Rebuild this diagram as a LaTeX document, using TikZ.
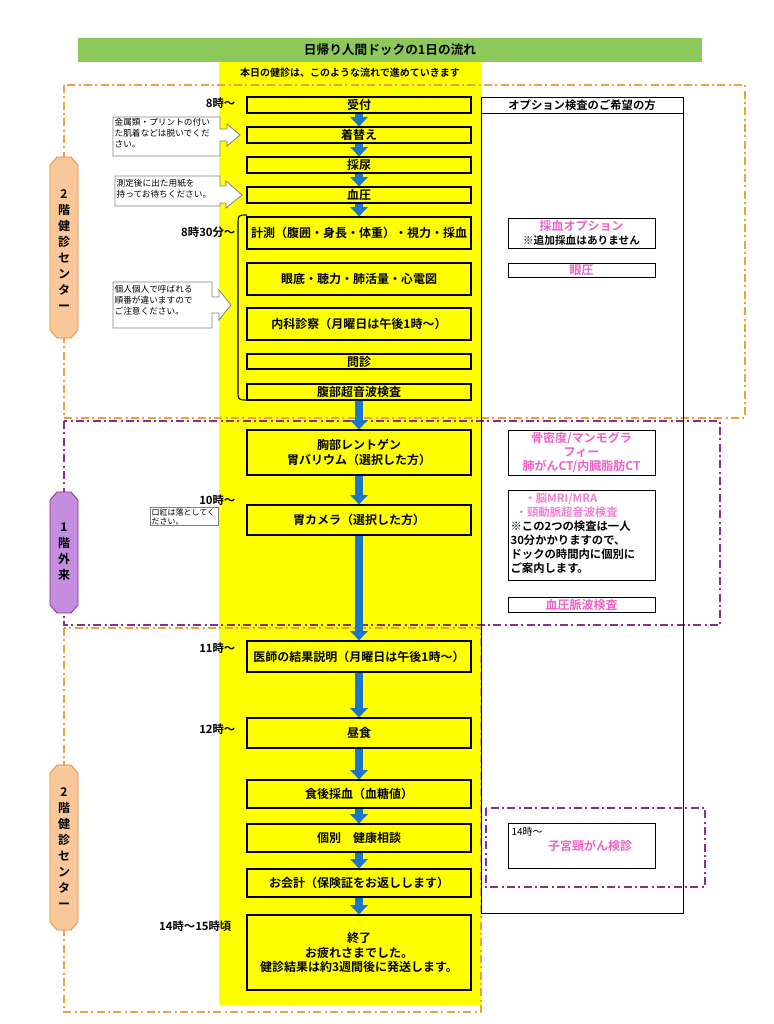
\documentclass[tikz,border=0pt]{standalone}
\usepackage{fontspec}
\setmainfont{Noto Sans CJK JP}[BoldFont={* Bold}]
\usetikzlibrary{arrows.meta}
\definecolor{ygreen}{HTML}{8DC85A}
\definecolor{yel}{HTML}{FFFF00}
\definecolor{oline}{HTML}{F0A040}
\definecolor{pline}{HTML}{8A2F8A}
\definecolor{pinkt}{HTML}{F060C8}
\definecolor{flowblue}{HTML}{1C75C8}
\definecolor{ofill}{HTML}{F9C79A}
\definecolor{pfill}{HTML}{C48DE0}
\begin{document}
\begin{tikzpicture}[x=0.75pt,y=-0.75pt,
 flow/.style={draw=black,line width=0.9pt,fill=yel,font=\bfseries\fontsize{9}{11}\selectfont,align=center,inner sep=0pt},
 opt/.style={draw=black,line width=0.7pt,fill=white,font=\bfseries\fontsize{9}{10.5}\selectfont,align=center,inner sep=0pt},
 tlab/.style={font=\bfseries\fontsize{8.5}{10}\selectfont,anchor=east},
 call/.style={draw=gray,fill=white,line width=0.6pt},
 ctext/.style={font=\fontsize{6.5}{8}\selectfont,align=left,anchor=north west,inner sep=1pt},
 fa/.style={draw=flowblue,line width=6pt,-{Triangle[length=7pt,width=13pt]}},
 odash/.style={draw=oline,line width=1pt,dash pattern=on 6pt off 2.5pt on 1.5pt off 2.5pt},
 pdash/.style={draw=pline,line width=1pt,dash pattern=on 6pt off 2.5pt on 1.5pt off 2.5pt},
 side/.style={font=\bfseries\fontsize{9}{12}\selectfont,align=center}]
\useasboundingbox (0,0) rectangle (774,1024);
\fill[white] (0,0) rectangle (774,1024);
% title
\node[fill=ygreen,minimum width=624*0.75pt,minimum height=24*0.75pt,inner sep=0pt,font=\bfseries\fontsize{9.5}{11}\selectfont] (title) at (390,50) {日帰り人間ドックの1日の流れ};
\fill[yel] (219,62) rectangle (481,1005);
\node[font=\bfseries\fontsize{7.5}{9}\selectfont] (sub) at (350,73) {本日の健診は、このような流れで進めていきます};
% region boxes
\draw[odash] (64,85) rectangle (745,418);
\draw[pdash] (64,421) rectangle (720,625);
\draw[odash] (64,628) rectangle (481,1012);
% option column
\draw[black,line width=0.7pt] (481,97) rectangle (683,913);
\node[draw=black,line width=0.7pt,fill=white,minimum width=202*0.75pt,minimum height=16*0.75pt,inner sep=0pt,font=\bfseries\fontsize{8.5}{10}\selectfont] (opthead) at (582,105) {オプション検査のご希望の方};
% flow boxes
\def\fb#1#2#3#4{\node[flow,minimum width=224*0.75pt,minimum height={(#3-#2)*0.75pt}] (#1) at (359,{(#2+#3)/2}) {#4};}
\fb{a}{97}{113}{受付}
\fb{b}{127}{143}{着替え}
\fb{c}{157}{173}{採尿}
\fb{d}{187}{203}{血圧}
\fb{e}{217}{249}{計測（腹囲・身長・体重）・視力・採血}
\fb{f}{263}{295}{眼底・聴力・肺活量・心電図}
\fb{g}{308}{340}{内科診察（月曜日は午後1時～）}
\fb{h}{354}{369}{問診}
\fb{i}{384}{400}{腹部超音波検査}
\fb{j}{430}{475}{胸部レントゲン\\胃バリウム（選択した方）}
\fb{k}{505}{535}{胃カメラ（選択した方）}
\fb{l}{641}{672}{医師の結果説明（月曜日は午後1時～）}
\fb{m}{718}{748}{昼食}
\fb{n}{780}{808}{食後採血（血糖値）}
\fb{o}{824}{852}{個別　健康相談}
\fb{p}{869}{897}{お会計（保険証をお返しします）}
\fb{q}{915}{990}{終了\\お疲れさまでした。\\健診結果は約3週間後に発送します。}
\foreach \u/\v in {a/b,b/c,c/d,d/e,i/j,j/k,k/l,l/m,m/n,n/o,o/p,p/q}
  \draw[fa] (\u.south) -- (\v.north);
% brace
\draw[black,line width=0.8pt] (247,215) .. controls (238,215) .. (238,225) -- (238,390) .. controls (238,400) .. (247,400);
% times
\node[tlab] (t1) at (240,103) {8時～};
\node[tlab] (t2) at (240,232) {8時30分～};
\node[tlab] (t3) at (240,500) {10時～};
\node[tlab] (t4) at (240,648) {11時～};
\node[tlab] (t5) at (240,729) {12時～};
\node[tlab] (t6) at (236,926) {14時～15時頃};
% callouts
\draw[call] (113,117) -- (220,117) -- (220,129) -- (227,129) -- (227,124) -- (240,135) -- (227,146) -- (227,141) -- (220,141) -- (220,156) -- (113,156) -- cycle;
\node[ctext] (c1) at (113,117) {金属類・プリントの付い\\た肌着などは脱いでくだ\\さい。};
\draw[call] (115,176) -- (220,176) -- (220,186) -- (226,186) -- (226,181) -- (242,195) -- (226,208) -- (226,203) -- (220,203) -- (220,206) -- (115,206) -- cycle;
\node[ctext] (c2) at (115,178) {測定後に出た用紙を\\持ってお待ちください。};
\draw[call] (113,282) -- (212,282) -- (212,297) -- (219,297) -- (219,290) -- (231,305) -- (219,320) -- (219,313) -- (212,313) -- (212,328) -- (113,328) -- cycle;
\node[ctext] (c3) at (113,284) {個人個人で呼ばれる\\順番が違いますので\\ご注意ください。};
\draw[call] (150,507) -- (218,507) -- (218,525) -- (150,525) -- cycle;
\node[ctext,font=\fontsize{6}{7}\selectfont] (c4) at (150,507) {口紅は落としてく\\ださい。};
% side labels
\draw[oline!90!black,fill=ofill,line width=0.6pt] (50,165) -- (57,157) -- (71,157) -- (78,165) -- (78,330) -- (71,338) -- (57,338) -- (50,330) -- cycle;
\node[side] (s1) at (64,250) {2\\階\\健\\診\\セ\\ン\\タ\\ー};
\draw[pline,fill=pfill,line width=0.6pt] (50,500) -- (57,492) -- (71,492) -- (78,500) -- (78,605) -- (71,613) -- (57,613) -- (50,605) -- cycle;
\node[side] (s2) at (64,552) {1\\階\\外\\来};
\draw[oline!90!black,fill=ofill,line width=0.6pt] (50,773) -- (57,765) -- (71,765) -- (78,773) -- (78,922) -- (71,930) -- (57,930) -- (50,922) -- cycle;
\node[side] (s3) at (64,848) {2\\階\\健\\診\\セ\\ン\\タ\\ー};
% option boxes
\def\ob#1#2#3#4{\node[opt,minimum width=147*0.75pt,minimum height={(#3-#2)*0.75pt}] (#1) at (581.5,{(#2+#3)/2}) {#4};}
\ob{o1}{218}{248}{\textcolor{pinkt}{採血オプション}\\\fontsize{8}{10}\selectfont ※追加採血はありません}
\ob{o2}{263}{277}{\textcolor{pinkt}{眼圧}}
\ob{o3}{430}{475}{\textcolor{pinkt}{骨密度/マンモグラ}\\\textcolor{pinkt}{フィー}\\\textcolor{pinkt}{肺がんCT/内臓脂肪CT}}
\node[draw=black,line width=0.7pt,fill=white,minimum width=147*0.75pt,minimum height=90*0.75pt,inner sep=0pt] (o4) at (581.5,535) {};
\node[font=\bfseries\fontsize{8.5}{10.5}\selectfont,align=left,anchor=north west,inner sep=1pt] (o4t) at (509,491) {\quad\ \textcolor{pinkt!80}{・脳MRI/MRA}\\\ \ \textcolor{pinkt!80}{・頸動脈超音波検査}\\※この2つの検査は一人\\30分かかりますので、\\ドックの時間内に個別に\\ご案内します。};
\ob{o5}{597}{612}{\textcolor{pinkt}{血圧脈波検査}}
\draw[pdash] (486,808) rectangle (705,887);
\node[draw=black,line width=0.7pt,fill=white,minimum width=147*0.75pt,minimum height=45*0.75pt,inner sep=0pt] (o6) at (581.5,845.5) {};
\node[font=\fontsize{7.5}{9}\selectfont,anchor=north west,inner sep=1pt] (o6a) at (510,825) {14時～};
\node[font=\bfseries\fontsize{9}{11}\selectfont,text=pinkt] (o6b) at (590,846) {子宮頸がん検診};
\end{tikzpicture}
\end{document}
